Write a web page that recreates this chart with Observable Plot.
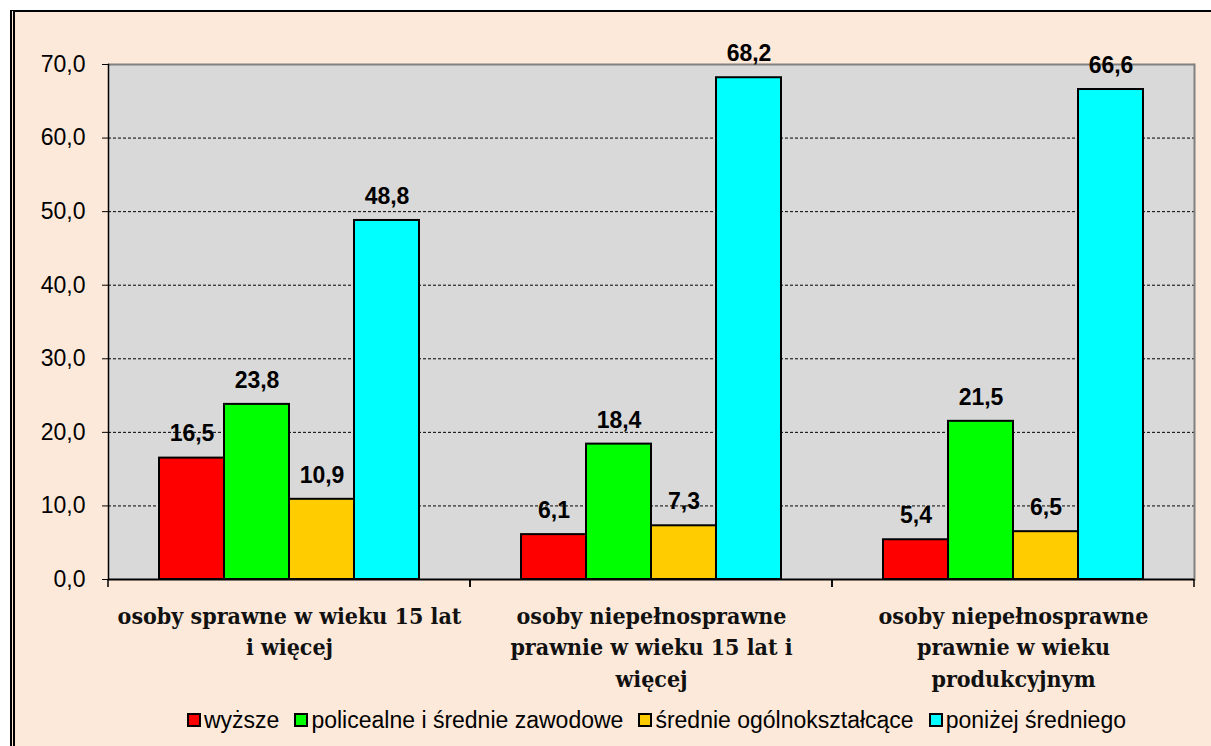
<!DOCTYPE html>
<html>
<head>
<meta charset="utf-8">
<script src="https://cdn.jsdelivr.net/npm/d3@7"></script>
<script src="https://cdn.jsdelivr.net/npm/@observablehq/plot@0.6"></script>
<style>
  html, body { margin: 0; padding: 0; background: #ffffff; width: 1211px; height: 746px; overflow: hidden; }
  #panel { position: absolute; left: 10px; top: 10px; right: 0; bottom: 0; background: #fde9d9;
           border-left: 5px double #000; border-top: 2px solid #000; }
  #chart { position: absolute; left: 0; top: 0; }
  #legend { position: absolute; left: 187px; top: 706px; white-space: nowrap;
            font-family: "Liberation Sans", Arial, sans-serif; font-size: 23px; color: #000; }
  #legend .item { display: inline-flex; align-items: center; margin-right: 15px; }
  #legend .sw { display: inline-block; width: 10px; height: 10px; border: 2px solid #000; margin-right: 3px; }
</style>
</head>
<body>
<div id="panel"></div>
<div id="chart"></div>
<div id="legend"></div>
<script>
const categories = [
  "osoby sprawne w wieku 15 lat i więcej",
  "osoby niepełnosprawne prawnie w wieku 15 lat i więcej",
  "osoby niepełnosprawne prawnie w wieku produkcyjnym"
];
const categoryLabels = [
  "osoby sprawne w wieku 15 lat\ni więcej",
  "osoby niepełnosprawne\nprawnie w wieku 15 lat i\nwięcej",
  "osoby niepełnosprawne\nprawnie w wieku\nprodukcyjnym"
];
const series = ["wyższe", "policealne i średnie zawodowe", "średnie ogólnokształcące", "poniżej średniego"];
const colors = ["#ff0000", "#00ff00", "#ffcc00", "#00ffff"];
const wyzsze = [16.5, 6.1, 5.4];
const policealne = [23.8, 18.4, 21.5];
const srednieOgolne = [10.9, 7.3, 6.5];
const ponizejSredniego = [48.8, 68.2, 66.6];
const yTicks = [0, 10, 20, 30, 40, 50, 60, 70];
const gridTicks = [10, 20, 30, 40, 50, 60];

const seriesValues = [wyzsze, policealne, srednieOgolne, ponizejSredniego];
const data = [];
categories.forEach((c, ci) => {
  series.forEach((s, si) => data.push({cat: c, series: s, value: seriesValues[si][ci]}));
});
const fmt = v => d3.format(".1f")(v).replace(".", ",");

const boundaryTicks = (index, scales, values, dimensions) => {
  const g = d3.create("svg:g");
  const y0 = scales.y(0);
  [dimensions.marginLeft, dimensions.width - dimensions.marginRight].forEach(xp => {
    g.append("line").attr("x1", xp).attr("x2", xp).attr("y1", y0).attr("y2", y0 + 8)
      .attr("stroke", "#000").attr("stroke-width", 1.5);
  });
  return g.node();
};

const chart = Plot.plot({
  width: 1211,
  height: 700,
  marginLeft: 107,
  marginRight: 17,
  marginTop: 64,
  marginBottom: 121,
  style: {background: "transparent", fontFamily: "'Liberation Sans', Arial, sans-serif"},
  fx: {domain: categories, padding: 0, axis: null},
  x: {domain: series, paddingInner: 0, paddingOuter: 0.745, axis: null},
  y: {domain: [0, 70], axis: null},
  color: {domain: series, range: colors},
  marks: [
    Plot.frame({fill: "#d9d9d9", insetLeft: -0.5, insetRight: -0.5}),
    Plot.ruleY(gridTicks, {stroke: "#000", strokeWidth: 1, strokeDasharray: "3,2"}),
    Plot.ruleY([70], {stroke: "#808080", strokeWidth: 2}),
    Plot.frame({anchor: "right", stroke: "#808080", strokeWidth: 2, facetAnchor: "right"}),
    Plot.barY(data, {fx: "cat", x: "series", y: "value", fill: "series", stroke: "#000", strokeWidth: 2, inset: 0}),
    Plot.text(data, {fx: "cat", x: "series", y: "value", text: d => fmt(d.value), dy: -24, lineAnchor: "middle",
      fontSize: 23, fontWeight: "bold", fill: "#000"}),
    Plot.ruleY([0], {stroke: "#000", strokeWidth: 2}),
    Plot.frame({anchor: "left", stroke: "#000", strokeWidth: 1.5, facetAnchor: "left"}),
    Plot.axisY(yTicks, {tickFormat: fmt, tickSize: 6, tickPadding: 17, fontSize: 23, stroke: "#000",
      facetAnchor: "left", label: null}),
    boundaryTicks,
    Plot.text(categories, {fx: d => d, text: (d, i) => categoryLabels[i], frameAnchor: "bottom", lineAnchor: "top",
      dy: 22, fontSize: 23, fontWeight: "bold", lineHeight: 1.37,
      fontFamily: "'DejaVu Serif Condensed', 'DejaVu Serif', serif", fill: "#111"})
  ]
});
document.getElementById("chart").appendChild(chart);

const legend = document.getElementById("legend");
series.forEach((s, i) => {
  const item = document.createElement("span");
  item.className = "item";
  const sw = document.createElement("span");
  sw.className = "sw";
  sw.style.background = colors[i];
  item.appendChild(sw);
  item.appendChild(document.createTextNode(s));
  legend.appendChild(item);
});
</script>
</body>
</html>
